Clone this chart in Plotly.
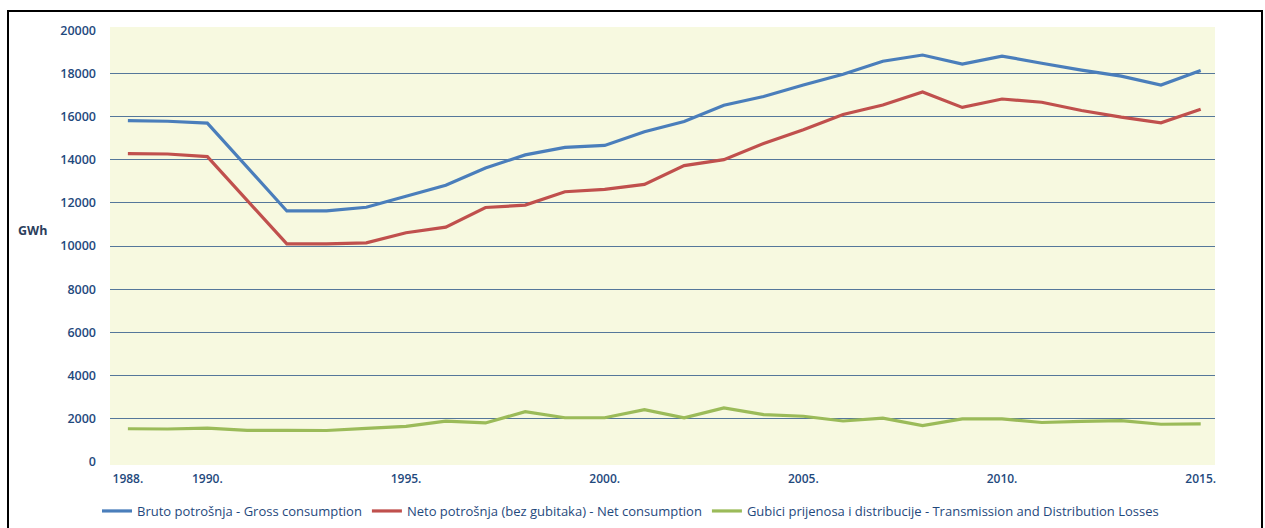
import plotly.graph_objects as go

years = [1988, 1989, 1990, 1991, 1992, 1993, 1994, 1995, 1996, 1997, 1998, 1999, 2000, 2001,
         2002, 2003, 2004, 2005, 2006, 2007, 2008, 2009, 2010, 2011, 2012, 2013, 2014, 2015]
gross = [15820, 15790, 15700, 13660, 11630, 11630, 11800, 12310, 12820, 13620, 14230, 14580, 14670, 15300,
         15780, 16530, 16940, 17470, 17970, 18570, 18860, 18440, 18810, 18480, 18160, 17880, 17470, 18140]
net = [14290, 14270, 14150, 12100, 10100, 10100, 10150, 10620, 10880, 11790, 11900, 12520, 12630, 12860,
       13730, 14010, 14760, 15400, 16100, 16540, 17150, 16430, 16820, 16670, 16290, 15980, 15720, 16350]
losses = [1530, 1520, 1560, 1460, 1460, 1450, 1550, 1640, 1880, 1800, 2320, 2040, 2040, 2420,
          2040, 2500, 2190, 2110, 1890, 2020, 1680, 1990, 1990, 1820, 1870, 1910, 1740, 1760]

x_tick_vals = [1988, 1990, 1995, 2000, 2005, 2010, 2015]
x_tick_text = ["1988.", "1990.", "1995.", "2000.", "2005.", "2010.", "2015."]
y_tick_vals = [0, 2000, 4000, 6000, 8000, 10000, 12000, 14000, 16000, 18000, 20000]
y_tick_text = ["0", "2000", "4000", "6000", "8000", "10000", "12000", "14000", "16000", "18000", "20000"]
grid_vals = [2000, 4000, 6000, 8000, 10000, 12000, 14000, 16000, 18000]

series_names = [
    "Bruto potrošnja - Gross consumption",
    "Neto potrošnja (bez gubitaka) - Net consumption",
    "Gubici prijenosa i distribucije - Transmission and Distribution Losses",
]
series_colors = ["#4A7EBB", "#C0504D", "#9BBB59"]

TXT = "#1F497D"
FONT = "Open Sans"

fig = go.Figure()
for name, vals, col in zip(series_names, [gross, net, losses], series_colors):
    fig.add_trace(go.Scatter(x=years, y=vals, mode="lines", name=name,
                             line=dict(color=col, width=3.2)))

W, H = 1265, 528
L, R, T, B = 110, 50, 27, 63
pw, ph = W - L - R, H - T - B

def px(xp):  # page x -> paper
    return (xp - L) / pw

def py(yp):  # page y -> paper
    return (H - B - yp) / ph

yr = [-150, 20160]
fig.update_layout(
    width=W, height=H,
    margin=dict(l=L, r=R, t=T, b=B, autoexpand=False),
    paper_bgcolor="white",
    plot_bgcolor="#F7F9E0",
    font=dict(family=FONT, color=TXT),
    xaxis=dict(range=[1988 - 0.45, 2015 + 0.36], tickvals=x_tick_vals, ticktext=x_tick_text,
               showgrid=False, zeroline=False, showline=False, ticks="", automargin=False,
               ticklabelstandoff=5,
               tickfont=dict(family=FONT, size=12, color=TXT, weight=600)),
    yaxis=dict(range=yr, tickvals=y_tick_vals, ticktext=y_tick_text, showgrid=False, zeroline=False,
               showline=False, ticks="", ticklabelstandoff=13, automargin=False,
               tickfont=dict(family=FONT, size=12.5, color=TXT, weight=600)),
    yaxis2=dict(range=yr, overlaying="y", side="left", tickvals=grid_vals, showticklabels=False,
                showgrid=True, gridcolor="#55779A", gridwidth=1, zeroline=False, showline=False,
                ticks="", automargin=False),
    showlegend=True,
    legend=dict(orientation="h", x=px(97), xanchor="left", y=py(511), yanchor="middle",
                font=dict(family=FONT, size=13, color=TXT), bgcolor="rgba(0,0,0,0)",
                itemwidth=30, tracegroupgap=0),
    annotations=[dict(text="<b>GWh</b>", x=px(32), y=py(230), xref="paper", yref="paper",
                      xanchor="center", yanchor="middle",
                      showarrow=False, font=dict(family=FONT, size=12.5, color="#2B3E5C"))],
    shapes=[dict(type="rect", xref="paper", yref="paper", x0=px(8), x1=px(1262), y0=py(545), y1=py(11),
                 line=dict(color="black", width=2), fillcolor="rgba(0,0,0,0)", layer="above")],
)
# invisible trace binding y2 so the grid axis is drawn
fig.add_trace(go.Scatter(x=[years[0]], y=[grid_vals[0]], yaxis="y2", mode="markers",
                         marker=dict(opacity=0), showlegend=False, hoverinfo="skip"))
fig.data = (fig.data[-1],) + fig.data[:-1]

fig.write_html("out.html", config={"displayModeBar": False},
               post_script="document.body.style.margin='0';document.body.style.overflow='hidden';")
